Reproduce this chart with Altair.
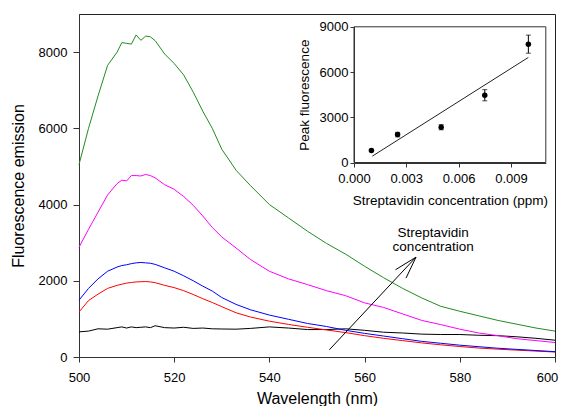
import altair as alt
import pandas as pd

# ---------------- main spectra ----------------
wavelength = [500, 502, 504, 506, 508, 509, 510, 511, 512, 513, 514, 515, 516,
              518, 520, 522, 524, 526, 528, 530,
              533, 536, 540, 544, 548, 552, 556, 560,
              564, 568, 572, 576, 580, 584, 588, 592, 596, 600]
black = [660, 680, 740, 730, 770, 790, 760, 790, 770, 780, 790, 770, 820,
         770, 760, 780, 750, 760, 740, 735,
         730, 750, 790, 760, 720, 720, 740, 700,
         650, 630, 600, 590, 590, 570, 560, 530, 490, 440]
red = [1180, 1480, 1650, 1800, 1880, 1910, 1940, 1955, 1970, 1975, 1980, 1970, 1950,
       1880, 1820, 1740, 1640, 1530, 1430, 1320,
       1160, 1050, 940, 855, 780, 710, 640, 560,
       490, 430, 370, 320, 275, 235, 205, 180, 155, 130]
blue = [1490, 1800, 2050, 2250, 2360, 2400, 2420, 2450, 2470, 2480, 2470, 2460, 2430,
        2340, 2250, 2130, 2000, 1860, 1730, 1560,
        1380, 1240, 1100, 990, 880, 800, 700, 620,
        550, 480, 410, 360, 310, 270, 230, 200, 170, 140]
magenta = [2880, 3350, 3800, 4250, 4550, 4640, 4620, 4760, 4760, 4750, 4790, 4760, 4700,
           4520, 4400, 4210, 3980, 3700, 3400, 3150,
           2860, 2560, 2250, 2050, 1900, 1740, 1610, 1420,
           1300, 1130, 960, 850, 730, 630, 560, 480, 430, 380]
green = [5050, 6000, 6850, 7650, 8000, 8250, 8230, 8210, 8450, 8310, 8420, 8400, 8300,
         7950, 7700, 7400, 6950, 6450, 6000, 5450,
         4900, 4500, 4000, 3650, 3300, 2980, 2700, 2380,
         2080, 1800, 1550, 1330, 1200, 1080, 960, 860, 760, 680]

series_values = [black, red, blue, magenta, green]
series_colors = ["#000000", "#ff0000", "#0000ff", "#ff00ff", "#228b22"]

# ---------------- arrow annotation ----------------
arrow_wl = [552.6, 570.8]
arrow_val = [190, 2620]
head_wl = [566.5, 568.7]
head_val = [2290, 2070]
label_lines = ["Streptavidin", "concentration"]
label_wl = [574.4, 574.4]
label_val = [3253, 2875]

# ---------------- inset ----------------
conc = [0.001, 0.0025, 0.005, 0.0075, 0.01]
peak = [800, 1850, 2340, 4460, 7850]
peak_err = [70, 150, 170, 370, 600]
fit_conc = [0.00105, 0.01]
fit_peak = [420, 6970]
inset_x_domain = [0, 0.011]
inset_y_domain = [0, 9000]

FONT = "Liberation Sans"
AX = "#333333"

main_x = alt.Scale(domain=[500, 600], nice=False, zero=False)
main_y = alt.Scale(domain=[0, 9000], nice=False)
ins_x = alt.Scale(domain=inset_x_domain, range=[275, 466.8], nice=False, zero=False)
ins_y = alt.Scale(domain=inset_y_domain, range=[148.5, 12.8], nice=False)

common = dict(grid=False, domainColor=AX, tickColor=AX, labelColor="#000000",
              titleColor="#000000", labelFont=FONT, titleFont=FONT,
              titleFontWeight="normal", labelFlush=False)

x_axis = alt.Axis(title="Wavelength (nm)", orient="bottom",
                  values=[500, 520, 540, 560, 580, 600], format="d",
                  tickSize=5, labelPadding=9, labelFontSize=13, titleFontSize=16,
                  labelOffset={"condition": {"test": "datum.value === 600", "value": -8},
                               "value": 0},
                  titleY=46, titleBaseline="alphabetic", **common)
y_axis = alt.Axis(title="Fluorescence emission", orient="left",
                  values=[0, 2000, 4000, 6000, 8000], format="d",
                  tickSize=6, labelPadding=6, labelFontSize=13, titleFontSize=16,
                  titleX=-56, titleY=171.5, titleBaseline="alphabetic", **common)

layers = []
for i, (vals, col) in enumerate(zip(series_values, series_colors)):
    d = pd.DataFrame({"wavelength": wavelength, "value": vals})
    layers.append(
        alt.Chart(d).mark_line(color=col, strokeWidth=1).encode(
            x=alt.X("wavelength:Q", scale=main_x, axis=x_axis if i == 0 else None),
            y=alt.Y("value:Q", scale=main_y, axis=y_axis if i == 0 else None),
        )
    )

arrow_df = pd.DataFrame({
    "x": [arrow_wl[0], head_wl[0], head_wl[1]],
    "y": [arrow_val[0], head_val[0], head_val[1]],
    "x2": [arrow_wl[1]] * 3,
    "y2": [arrow_val[1]] * 3,
})
layers.append(alt.Chart(arrow_df).mark_rule(color="#000000", strokeWidth=1).encode(
    x=alt.X("x:Q", scale=main_x, axis=None),
    y=alt.Y("y:Q", scale=main_y, axis=None),
    x2="x2:Q", y2="y2:Q",
))
label_df = pd.DataFrame({"x": label_wl, "y": label_val, "t": label_lines})
layers.append(alt.Chart(label_df).mark_text(font=FONT, fontSize=13.5, color="#000000",
                                            align="center", baseline="middle").encode(
    x=alt.X("x:Q", scale=main_x, axis=None),
    y=alt.Y("y:Q", scale=main_y, axis=None),
    text="t:N",
))

ins_x_axis = alt.Axis(title="Streptavidin concentration (ppm)", orient="bottom", offset=-194,
                      values=[0, 0.003, 0.006, 0.009], format=".3f",
                      tickSize=4, labelPadding=5, labelFontSize=13, titleFontSize=13.5,
                      titleY=41, titleBaseline="alphabetic", **common)
ins_y_axis = alt.Axis(title="Peak fluorescence", orient="left", offset=-275,
                      values=[0, 3000, 6000, 9000], format="d",
                      tickSize=4, labelPadding=2, labelFontSize=13, titleFontSize=13.5,
                      titleX=-46, titleY=80.65, titleBaseline="alphabetic", **common)

frame_df = pd.DataFrame({"x0": [inset_x_domain[0]], "x1": [inset_x_domain[1]],
                         "y0": [inset_y_domain[0]], "y1": [inset_y_domain[1]]})
layers.append(alt.Chart(frame_df).mark_rect(fillOpacity=0, stroke=AX, strokeWidth=1).encode(
    x=alt.X("x0:Q", scale=ins_x, axis=ins_x_axis),
    x2="x1:Q",
    y=alt.Y("y0:Q", scale=ins_y, axis=ins_y_axis),
    y2="y1:Q",
))
fit_df = pd.DataFrame({"c": fit_conc, "p": fit_peak})
layers.append(alt.Chart(fit_df).mark_line(color="#222222", strokeWidth=1).encode(
    x=alt.X("c:Q", scale=ins_x, axis=None),
    y=alt.Y("p:Q", scale=ins_y, axis=None),
))
pts_df = pd.DataFrame({
    "c": conc, "p": peak,
    "lo": [p - e for p, e in zip(peak, peak_err)],
    "hi": [p + e for p, e in zip(peak, peak_err)],
})
layers.append(alt.Chart(pts_df).mark_rule(color="#000000", strokeWidth=1).encode(
    x=alt.X("c:Q", scale=ins_x, axis=None),
    y=alt.Y("lo:Q", scale=ins_y, axis=None),
    y2="hi:Q",
))
cap_df = pd.DataFrame({"c": conc + conc,
                       "v": list(pts_df["lo"]) + list(pts_df["hi"])})
layers.append(alt.Chart(cap_df).mark_tick(color="#000000", orient="horizontal",
                                          size=5, thickness=1).encode(
    x=alt.X("c:Q", scale=ins_x, axis=None),
    y=alt.Y("v:Q", scale=ins_y, axis=None),
))
layers.append(alt.Chart(pts_df).mark_circle(color="#000000", size=30, opacity=1).encode(
    x=alt.X("c:Q", scale=ins_x, axis=None),
    y=alt.Y("p:Q", scale=ins_y, axis=None),
))

chart = alt.layer(*layers).resolve_scale(
    x="independent", y="independent"
).properties(
    width=476, height=343,
    padding={"left": 71, "top": 6, "right": 4, "bottom": 49},
    autosize=alt.AutoSizeParams(type="none"),
    background="white",
).configure_view(stroke="#222222", strokeWidth=1)

chart.save("out.html", embed_options={"renderer": "svg", "actions": False})
